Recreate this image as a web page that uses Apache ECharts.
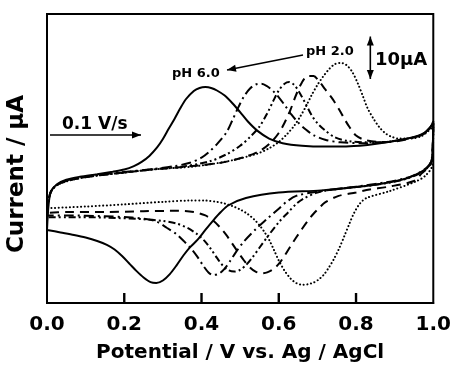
<!DOCTYPE html>
<html>
<head>
<meta charset="utf-8">
<script src="https://cdn.jsdelivr.net/npm/echarts@6/dist/echarts.min.js"></script>
<style>
  html, body { margin: 0; padding: 0; background: #fff; }
  #chart { width: 454px; height: 368px; }
</style>
</head>
<body>
<div id="chart"></div>
<script>
// cyclic voltammograms, [potential (V), current (uA)], forward then reverse sweep
const ph60 = [
  [0, -12.8], [0.004, -7], [0.01, -3.8], [0.025, -2.1], [0.05, -1.0], [0.085, -0.3], [0.13, 0.3], [0.17, 0.9],
  [0.2, 1.4], [0.225, 2.2], [0.245, 3.2], [0.265, 4.6], [0.285, 6.6], [0.30, 8.6], [0.315, 11.0], [0.33, 13.3],
  [0.345, 15.8], [0.36, 18.0], [0.38, 19.9], [0.395, 20.6], [0.41, 20.8], [0.425, 20.6], [0.44, 20.0],
  [0.46, 18.8], [0.48, 17.0], [0.50, 14.9], [0.52, 12.7], [0.545, 10.5], [0.575, 8.7], [0.61, 7.6], [0.66, 7.0],
  [0.72, 6.8], [0.81, 7.0], [0.91, 8.3], [0.965, 9.5], [0.99, 11.0], [1.0, 12.8],
  [0.997, 4.0], [0.99, 2.3], [0.97, 0.9], [0.93, -0.7], [0.84, -2.3], [0.71, -3.5], [0.60, -4.0], [0.515, -5.3],
  [0.47, -7.0], [0.45, -8.6], [0.43, -10.6], [0.41, -12.8], [0.39, -15.1], [0.37, -16.9], [0.354, -18.7],
  [0.335, -21.2], [0.318, -23.2], [0.30, -24.7], [0.283, -25.3], [0.268, -25.1], [0.25, -24.0], [0.232, -22.5],
  [0.215, -20.9], [0.195, -19.0], [0.175, -17.4], [0.155, -16.3], [0.13, -15.4], [0.10, -14.6], [0.07, -14.0],
  [0.035, -13.4], [0, -12.8]
];
const ph50 = [
  [0, -9.4], [0.004, -6], [0.01, -3.8], [0.025, -2.2], [0.05, -1.2], [0.085, -0.5], [0.13, 0.1], [0.2, 0.8],
  [0.27, 1.5], [0.33, 2.2], [0.37, 3.0], [0.40, 4.2], [0.42, 5.6], [0.44, 7.4], [0.465, 10.2], [0.48, 13.0],
  [0.495, 16.0], [0.51, 18.6], [0.525, 20.4], [0.54, 21.4], [0.555, 21.6], [0.57, 21.0], [0.585, 19.9],
  [0.60, 18.4], [0.615, 16.6], [0.633, 14.3], [0.65, 12.5], [0.67, 10.8], [0.69, 9.5], [0.72, 8.4], [0.76, 7.8],
  [0.82, 7.6], [0.88, 7.9], [0.94, 8.8], [0.975, 9.8], [1.0, 12.3],
  [0.997, 4.5], [0.99, 2.6], [0.97, 1.0], [0.93, -0.6], [0.85, -2.0], [0.75, -3.2], [0.70, -3.8], [0.645, -4.8],
  [0.62, -6.2], [0.60, -7.8], [0.57, -10.2], [0.543, -12.4], [0.51, -15.5], [0.49, -17.9], [0.475, -20.0],
  [0.46, -21.9], [0.445, -23.1], [0.43, -23.4], [0.418, -22.8], [0.405, -21.3], [0.39, -19.2], [0.375, -17.4],
  [0.355, -15.5], [0.335, -13.8], [0.31, -12.3], [0.285, -10.9], [0.26, -10.3], [0.22, -9.9], [0.15, -9.6],
  [0.05, -9.4], [0, -9.4]
];
const ph40 = [
  [0, -9.8], [0.004, -6.2], [0.01, -3.9], [0.025, -2.3], [0.05, -1.3], [0.085, -0.6], [0.13, 0], [0.2, 0.7],
  [0.27, 1.4], [0.35, 2.1], [0.42, 3.3], [0.465, 5.0], [0.50, 7.0], [0.525, 9.0], [0.55, 11.5], [0.57, 14.6],
  [0.585, 17.4], [0.60, 20.0], [0.615, 21.6], [0.627, 22.0], [0.64, 21.3], [0.655, 19.3], [0.67, 16.8],
  [0.685, 14.2], [0.70, 12.3], [0.72, 10.6], [0.745, 9.0], [0.78, 8.1], [0.83, 7.8], [0.88, 7.9], [0.94, 8.8],
  [0.975, 9.8], [1.0, 12.3],
  [0.997, 4.2], [0.99, 2.4], [0.97, 0.8], [0.93, -0.8], [0.85, -2.2], [0.75, -3.2], [0.70, -4.0], [0.665, -5.4],
  [0.645, -6.7], [0.625, -8.6], [0.60, -11.0], [0.575, -13.9], [0.55, -17.0], [0.53, -19.5], [0.515, -21.1],
  [0.50, -22.2], [0.485, -22.6], [0.47, -22.3], [0.455, -21.2], [0.44, -19.4], [0.425, -17.4], [0.41, -15.6],
  [0.39, -13.9], [0.365, -12.4], [0.335, -11.3], [0.30, -10.7], [0.25, -10.3], [0.15, -9.9], [0.05, -9.8],
  [0, -9.8]
];
const ph30 = [
  [0, -8.8], [0.004, -5.8], [0.01, -3.8], [0.025, -2.3], [0.05, -1.3], [0.085, -0.6], [0.13, 0], [0.2, 0.7],
  [0.27, 1.4], [0.35, 2.0], [0.45, 3.0], [0.52, 4.6], [0.555, 6.0], [0.58, 7.8], [0.60, 10.0], [0.615, 12.4],
  [0.63, 15.4], [0.645, 19.0], [0.66, 21.9], [0.675, 23.4], [0.69, 23.4], [0.705, 22.1], [0.72, 20.3],
  [0.74, 17.9], [0.757, 15.4], [0.77, 13.3], [0.783, 11.4], [0.80, 9.4], [0.825, 8.3], [0.86, 7.9], [0.90, 8.0],
  [0.94, 8.7], [0.975, 9.8], [1.0, 12.2],
  [0.997, 4.0], [0.99, 2.2], [0.97, 0.5], [0.95, -1.3], [0.88, -2.7], [0.835, -3.3], [0.80, -4.0], [0.755, -4.8],
  [0.72, -6.3], [0.705, -7.6], [0.69, -9.0], [0.675, -10.7], [0.66, -12.6], [0.645, -14.6], [0.63, -16.7],
  [0.615, -18.9], [0.60, -20.8], [0.585, -22.1], [0.57, -22.8], [0.555, -23.0], [0.54, -22.6], [0.525, -21.6],
  [0.51, -20.0], [0.495, -18.1], [0.48, -16.1], [0.465, -14.1], [0.45, -12.4], [0.43, -10.6], [0.41, -9.4],
  [0.38, -8.6], [0.34, -8.3], [0.25, -8.4], [0.15, -8.6], [0.05, -8.6], [0, -8.8]
];
const ph20 = [
  [0, -7.7], [0.004, -5.5], [0.01, -3.8], [0.025, -2.3], [0.05, -1.4], [0.085, -0.6], [0.13, 0], [0.2, 0.7],
  [0.27, 1.4], [0.377, 2.1], [0.465, 3.3], [0.543, 5.1], [0.575, 6.4], [0.60, 7.9], [0.62, 9.6], [0.64, 11.7],
  [0.655, 13.8], [0.67, 16.2], [0.685, 18.9], [0.70, 21.3], [0.715, 23.3], [0.73, 25.0], [0.745, 26.2],
  [0.76, 26.5], [0.775, 26.0], [0.79, 24.4], [0.805, 21.6], [0.818, 18.6], [0.83, 15.8], [0.845, 13.4],
  [0.86, 11.4], [0.875, 10.0], [0.89, 9.2], [0.91, 8.7], [0.94, 8.7], [0.97, 9.3], [1.0, 11.5],
  [0.997, 2.3], [0.98, 0], [0.955, -1.4], [0.886, -3.7], [0.827, -5.3], [0.81, -6.6], [0.795, -8.8],
  [0.783, -11.3], [0.77, -14.2], [0.757, -17.0], [0.743, -19.6], [0.73, -21.6], [0.717, -23.3], [0.703, -24.5],
  [0.69, -25.2], [0.675, -25.6], [0.66, -25.7], [0.645, -25.3], [0.63, -24.2], [0.615, -22.4], [0.60, -20.0],
  [0.588, -17.6], [0.576, -15.3], [0.563, -13.3], [0.55, -11.7], [0.537, -10.4], [0.52, -9.1], [0.50, -8.0],
  [0.48, -7.2], [0.46, -6.6], [0.44, -6.2], [0.41, -5.9], [0.37, -5.9], [0.3, -6.2], [0.2, -6.8], [0.1, -7.3],
  [0, -7.7]
];

const curves = [ph60, ph50, ph40, ph30, ph20];
const dashes = ["solid", [10, 4, 2, 4], [7, 3, 2, 3, 2, 3], [9, 6], [0.1, 3.6]];
const innerTicks = [0.2, 0.4, 0.6, 0.8];
const yMin = -30, yMax = 38;
const scaleBar = 10; // uA

const font = '"DejaVu Sans", Arial, sans-serif';
const chart = echarts.init(document.getElementById("chart"));

const lineSeries = curves.map((d, i) => ({
  type: "line",
  data: d,
  smooth: 0.3,
  showSymbol: false,
  lineStyle: { color: "#000", width: 2, type: dashes[i], cap: i === 4 ? "round" : "butt" }
}));

// inward tick marks on the bottom edge, drawn on their own layer
const tickSeries = {
  type: "custom",
  zlevel: 2,
  silent: true,
  clip: false,
  data: innerTicks.map((v) => [v, yMin]),
  renderItem: (params, api) => {
    const p = api.coord([api.value(0), api.value(1)]);
    return {
      type: "rect",
      shape: { x: p[0] - 1.2, y: p[1] - 10, width: 2.4, height: 10 },
      style: { fill: "#000" }
    };
  }
};

chart.setOption({
  animation: false,
  grid: {
    left: 47, right: 20, top: 14, bottom: 62,
    show: true, borderColor: "#000", borderWidth: 2
  },
  xAxis: {
    type: "value", min: 0, max: 1, interval: 0.2,
    name: "Potential / V vs. Ag / AgCl",
    nameLocation: "middle", nameGap: 40,
    nameTextStyle: { color: "#000", fontFamily: font, fontWeight: "bold", fontSize: 20 },
    axisLine: { show: true, onZero: false, lineStyle: { color: "#000", width: 2 } },
    axisTick: { show: false },
    axisLabel: {
      margin: 12, color: "#000", fontFamily: font, fontWeight: "bold", fontSize: 20,
      formatter: (v) => v.toFixed(1)
    },
    splitLine: { show: false }
  },
  yAxis: {
    type: "value", min: yMin, max: yMax,
    axisLine: { show: false },
    axisTick: { show: false },
    axisLabel: { show: false },
    splitLine: { show: false }
  },
  series: [...lineSeries, tickSeries]
});

// annotations
function arrow(x1, y1, x2, y2, both) {
  const out = [{
    type: "line", shape: { x1, y1, x2, y2 },
    style: { stroke: "#000", lineWidth: 1.6 }
  }];
  const head = (tx, ty, fx, fy) => {
    const a = Math.atan2(ty - fy, tx - fx), L = 9, W = 3.5;
    const bx = tx - L * Math.cos(a), by = ty - L * Math.sin(a);
    return {
      type: "polygon",
      shape: { points: [[tx, ty],
        [bx + W * Math.sin(a), by - W * Math.cos(a)],
        [bx - W * Math.sin(a), by + W * Math.cos(a)]] },
      style: { fill: "#000" }
    };
  };
  out.push(head(x2, y2, x1, y1));
  if (both) out.push(head(x1, y1, x2, y2));
  return out;
}
const txt = (x, y, s, size) => ({
  type: "text", x, y,
  style: { text: s, fill: "#000", font: "bold " + size + "px " + font, verticalAlign: "middle" }
});

const barX = chart.convertToPixel({ xAxisIndex: 0 }, 0.837);
const barTop = chart.convertToPixel({ yAxisIndex: 0 }, 32.7);
const barBottom = chart.convertToPixel({ yAxisIndex: 0 }, 32.7 - scaleBar);

chart.setOption({
  graphic: [
    {
      type: "text", x: 17, y: 174, rotation: Math.PI / 2,
      style: {
        text: "Current / \u03bcA", fill: "#000", font: "bold 23px " + font,
        align: "center", verticalAlign: "middle"
      }
    },
    ...arrow(303, 55, 227, 70, false),
    txt(172, 74, "pH 6.0", 13),
    txt(306, 52, "pH 2.0", 13),
    ...arrow(barX, barBottom, barX, barTop, true),
    txt(375, 60, "10\u03bcA", 18),
    txt(62, 125, "0.1 V/s", 17),
    ...arrow(50, 135, 141, 135, false)
  ]
});
</script>
</body>
</html>
